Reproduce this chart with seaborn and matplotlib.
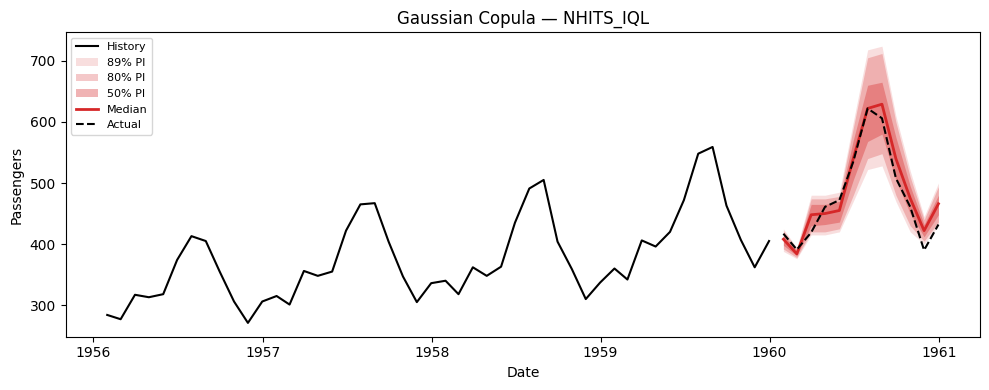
import numpy as np
import pandas as pd
import matplotlib
matplotlib.use("Agg")
import matplotlib.pyplot as plt
import seaborn as sns

# AirPassengers, month-end dates
hist_dates = pd.date_range("1956-01-31", periods=48, freq="ME")
hist_vals = [284, 277, 317, 313, 318, 374, 413, 405, 355, 306, 271, 306,
             315, 301, 356, 348, 355, 422, 465, 467, 404, 347, 305, 336,
             340, 318, 362, 348, 363, 435, 491, 505, 404, 359, 310, 337,
             360, 342, 406, 396, 420, 472, 548, 559, 463, 407, 362, 405]

fc_dates = pd.date_range("1960-01-31", periods=12, freq="ME")
actual = [417, 391, 419, 461, 472, 535, 622, 606, 508, 461, 390, 432]
median = [408, 384, 448, 450, 455, 540, 622, 629, 540, 475, 422, 466]
lo89 = [388, 376, 415, 415, 420, 470, 522, 528, 470, 420, 400, 430]
hi89 = [425, 394, 480, 480, 485, 600, 718, 724, 610, 520, 445, 500]
lo80 = [392, 378, 420, 420, 425, 480, 540, 548, 480, 430, 405, 436]
hi80 = [422, 392, 474, 474, 478, 590, 705, 712, 600, 510, 440, 494]
lo50 = [398, 381, 430, 432, 436, 505, 568, 580, 505, 450, 412, 448]
hi50 = [416, 389, 465, 465, 470, 570, 660, 665, 575, 495, 432, 480]

red = "#d62728"

fig, ax = plt.subplots(figsize=(10, 4), dpi=100)

sns.lineplot(x=hist_dates, y=hist_vals, color="black", lw=1.5, label="History", ax=ax)
ax.fill_between(fc_dates, lo89, hi89, color=red, alpha=0.15, lw=0, label="89% PI")
ax.fill_between(fc_dates, lo80, hi80, color=red, alpha=0.25, lw=0, label="80% PI")
ax.fill_between(fc_dates, lo50, hi50, color=red, alpha=0.35, lw=0, label="50% PI")
sns.lineplot(x=fc_dates, y=median, color=red, lw=2, label="Median", ax=ax)
sns.lineplot(x=fc_dates, y=actual, color="black", lw=1.5, ls="--", label="Actual", ax=ax)

ax.set_title("Gaussian Copula — NHITS_IQL")
ax.set_xlabel("Date")
ax.set_ylabel("Passengers")
ax.legend(loc="upper left", fontsize=8)
plt.tight_layout()
plt.savefig("out.png", dpi=100, bbox_inches="tight")
